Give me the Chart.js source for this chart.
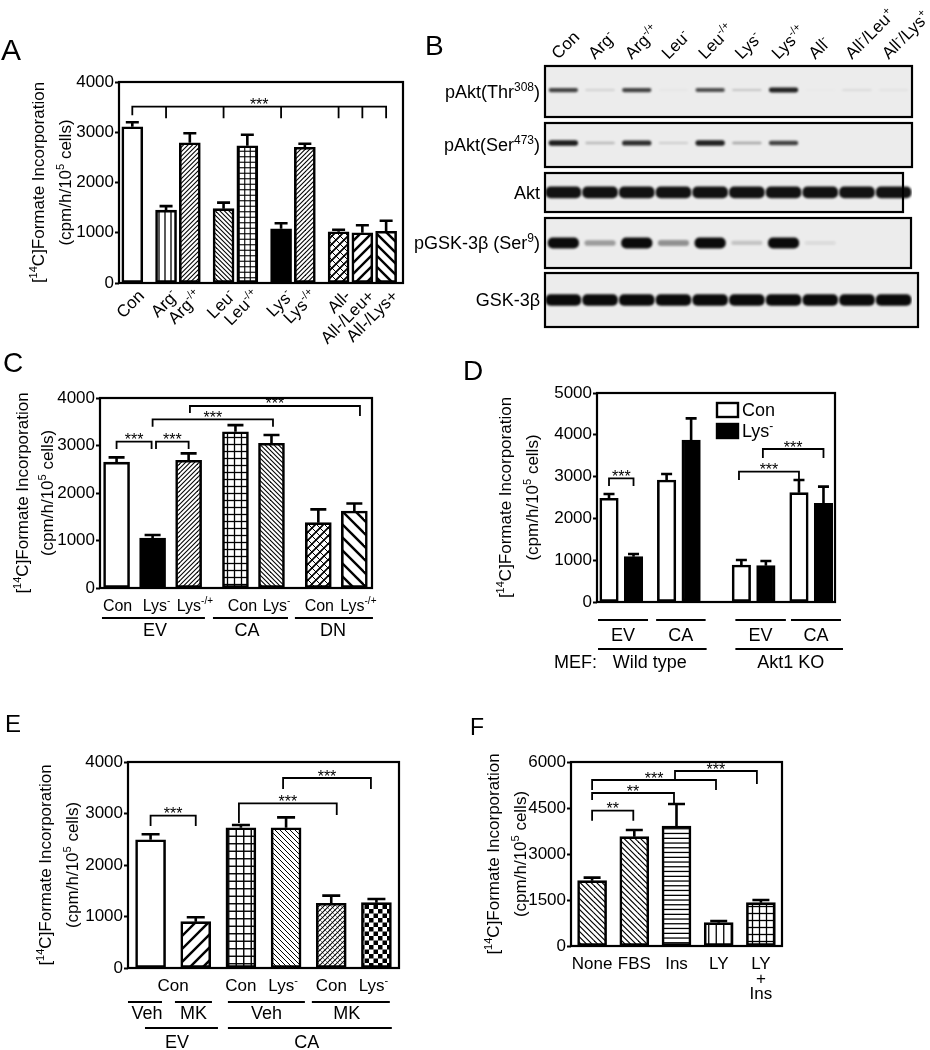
<!DOCTYPE html>
<html><head><meta charset="utf-8"><title>Figure</title>
<script src="https://cdn.jsdelivr.net/npm/chart.js@4.4.1/dist/chart.umd.min.js"></script>
<style>html,body{margin:0;padding:0;background:#fff}#wrap{position:relative;width:930px;height:1050px;overflow:hidden;background:#fff}canvas{position:absolute;left:0;top:0}</style>
</head><body><div id="wrap">
<canvas id="cA" width="930" height="1050"></canvas>
<canvas id="cB" width="930" height="1050"></canvas>
<canvas id="cC" width="930" height="1050"></canvas>
<canvas id="cD" width="930" height="1050"></canvas>
<canvas id="cE" width="930" height="1050"></canvas>
<canvas id="cF" width="930" height="1050"></canvas>
</div>
<script>
// ================= DATA =================
const yTitleLines = ['[^{14}C]Formate Incorporation', '(cpm/h/10^{5} cells)'];

// Panel A
const catA = ['Con','Arg^{-}','Arg^{-/+}','Leu^{-}','Leu^{-/+}','Lys^{-}','Lys^{-/+}','All-','All-/Leu+','All-/Lys+'];
const groupSizesA = [1,2,2,2,3];
const valA = [3110,1450,2790,1480,2730,1080,2700,1020,1000,1030];
const semA = [90,80,190,120,220,110,70,40,150,210];
const yTicksA = [0,1000,2000,3000,4000];

// Panel B (western blot band intensities, 0..1)
const laneB = ['Con','Arg^{-}','Arg^{-/+}','Leu^{-}','Leu^{-/+}','Lys^{-}','Lys^{-/+}','All^{-}','All^{-}/Leu^{+}','All^{-}/Lys^{+}'];
const rowB = ['pAkt(Thr^{308})','pAkt(Ser^{473})','Akt','pGSK-3β (Ser^{9})','GSK-3β'];
const thr308B = [0.75,0.12,0.75,0.04,0.70,0.18,0.90,0.02,0.10,0.06];
const ser473B = [0.92,0.22,0.85,0.14,0.90,0.30,0.75,0,0,0];
const aktB    = [0.97,0.97,0.97,0.97,0.97,0.97,0.97,0.97,0.97,0.97];
const pgskB   = [1.00,0.35,1.00,0.40,1.00,0.18,1.00,0.08,0,0];
const gskB    = [1,1,1,1,1,1,1,1,1,1];

// Panel C
const catC = ['Con','Lys^{-}','Lys^{-/+}','Con','Lys^{-}','Con','Lys^{-/+}'];
const groupC = ['EV','CA','DN'];
const groupSizesC = [3,2,2];
const valC = [2650,1050,2690,3290,3046,1375,1620];
const semC = [100,65,145,140,174,280,160];
const yTicksC = [0,1000,2000,3000,4000];

// Panel D
const seriesD = ['Con','Lys^{-}'];
const vectorD = ['EV','CA'];
const mefD = ['Wild type','Akt1 KO'];
const conD = [2480,2919,885,2615];
const conSemD = [104,143,120,304];
const lysD = [1084,3875,870,2360];
const lysSemD = [64,519,110,400];
const yTicksD = [0,1000,2000,3000,4000,5000];

// Panel E
const treatE = ['Con','Con','Con','Lys^{-}','Con','Lys^{-}'];
const drugE = ['Veh','MK','Veh','MK'];
const vectorE = ['EV','CA'];
const valE = [2490,900,2724,2724,1256,1268];
const semE = [106,84,53,201,149,72];
const yTicksE = [0,1000,2000,3000,4000];

// Panel F
const catF = ['None','FBS','Ins','LY','LY\n+\nIns'];
const valF = [2130,3565,3913,760,1413];
const semF = [98,217,717,55,87];
const yTicksF = [0,1500,3000,4500,6000];

// ================= HELPERS =================
const FONT = '"Liberation Sans", Arial, Helvetica, sans-serif';
const W = 930, H = 1050, YW = 60;

function parseRich(s){
  const segs=[]; const re=/\^\{([^}]*)\}/g; let last=0, m;
  while((m=re.exec(s))){ if(m.index>last) segs.push({t:s.slice(last,m.index),sup:false}); segs.push({t:m[1],sup:true}); last=re.lastIndex; }
  if(last<s.length) segs.push({t:s.slice(last),sup:false});
  return segs;
}
function drawRich(ctx, s, x, y, o){
  const size=o.size||17, segs=parseRich(s);
  ctx.save(); ctx.translate(x,y); if(o.rotate) ctx.rotate(o.rotate);
  ctx.textAlign='left'; ctx.textBaseline='alphabetic'; ctx.fillStyle='#000';
  let w=0;
  segs.forEach(g=>{ ctx.font=(g.sup?Math.round(size*0.64):size)+'px '+FONT; g.w=ctx.measureText(g.t).width; w+=g.w; });
  let sx=o.align==='center'?-w/2:(o.align==='right'?-w:0);
  const by=o.v==='middle'?size*0.36:(o.v==='top'?size*0.74:0);
  segs.forEach(g=>{ ctx.font=(g.sup?Math.round(size*0.64):size)+'px '+FONT; ctx.fillText(g.t, sx, by-(g.sup?size*0.4:0)); sx+=g.w; });
  ctx.restore();
}
function pattern(type, s, lw, lw2){
  const c=document.createElement('canvas'); c.width=Math.round(s*4); c.height=Math.round(s*4);
  const g=c.getContext('2d'); const S=c.width;
  g.fillStyle='#fff'; g.fillRect(0,0,S,S); g.strokeStyle='#000'; g.fillStyle='#000'; g.lineCap='butt';
  const ln=(x1,y1,x2,y2,w)=>{ g.lineWidth=w; g.beginPath(); g.moveTo(x1,y1); g.lineTo(x2,y2); g.stroke(); };
  const n=4;
  const fwd=(w)=>{ for(let k=-n;k<=n;k++){ ln(k*s-1, S+1, k*s+S+1, -1, w); } };
  const back=(w)=>{ for(let k=-n;k<=n;k++){ ln(k*s-1, -1, k*s+S+1, S+1, w); } };
  if(type==='vert'){ for(let k=0;k<n;k++) ln(k*s+s/2,0,k*s+s/2,S,lw); }
  else if(type==='horiz'){ for(let k=0;k<n;k++) ln(0,k*s+s/2,S,k*s+s/2,lw); }
  else if(type==='grid'){ for(let k=0;k<n;k++){ ln(k*s+s/2,0,k*s+s/2,S,lw); ln(0,k*s+s/2,S,k*s+s/2,lw); } }
  else if(type==='fwd'){ fwd(lw); }
  else if(type==='back'){ back(lw); }
  else if(type==='xhatch'){ fwd(lw); back(lw2); }
  else if(type==='checker'){ const q=s/2; for(let i=0;i<8;i++) for(let j=0;j<8;j++) if((i+j)%2===0) g.fillRect(i*q,j*q,q,q); }
  return g.createPattern(c,'repeat');
}
function groupedPositions(sizes, gap){
  const p=[]; let x=0;
  sizes.forEach(n=>{ for(let i=0;i<n;i++){ p.push(x); x+=1; } x+=gap; });
  return p;
}

// ================= DECOR PLUGIN =================
function decor(P){
  return {
    id:'decor',
    afterDatasetsDraw(chart){
      const ctx=chart.ctx, ys=chart.scales.y;
      ctx.save(); ctx.strokeStyle='#000'; ctx.lineWidth=2.6; ctx.lineCap='butt';
      P.series.forEach((s,di)=>{
        const meta=chart.getDatasetMeta(di);
        meta.data.forEach((el,i)=>{
          const v=s.values[i], e=s.sem[i];
          const yt=ys.getPixelForValue(v), ye=ys.getPixelForValue(v+e), hw=P.capW/2;
          ctx.beginPath(); ctx.moveTo(el.x,yt); ctx.lineTo(el.x,ye); ctx.moveTo(el.x-hw,ye); ctx.lineTo(el.x+hw,ye); ctx.stroke();
        });
      });
      ctx.restore();
    },
    afterDraw(chart){
      const ctx=chart.ctx, ca=chart.chartArea, xs=chart.scales.x, ys=chart.scales.y;
      const px=k=>xs.getPixelForValue(P.flatPos[k]);
      ctx.save();
      ctx.strokeStyle='#000'; ctx.lineWidth=2.2;
      ctx.strokeRect(ca.left, ca.top, ca.right-ca.left, ca.bottom-ca.top);
      // significance brackets
      (P.brackets||[]).forEach(b=>{
        const x1=px(b.a)+(b.oa||0), x2=px(b.b)+(b.ob||0), yl=ys.getPixelForValue(b.y);
        ctx.lineWidth=1.8; ctx.beginPath();
        ctx.moveTo(x1, ys.getPixelForValue(b.da)); ctx.lineTo(x1, yl); ctx.lineTo(x2, yl); ctx.lineTo(x2, ys.getPixelForValue(b.db));
        (b.ticks||[]).forEach(k=>{ const xx=px(k); ctx.moveTo(xx,yl); ctx.lineTo(xx, ys.getPixelForValue(b.dt)); });
        ctx.stroke();
        ctx.fillStyle='#000'; ctx.font='16px '+FONT; ctx.textAlign='center'; ctx.textBaseline='alphabetic';
        ctx.fillText(b.t, (x1+x2)/2+(b.tx||0), yl+3.5);
      });
      // category labels / group lines under the axis
      (P.under||[]).forEach(u=>{
        const xa=px(u.a), xb=px(u.b===undefined?u.a:u.b);
        let cx=(xa+xb)/2;
        if(u.line!==undefined){
          const l1=xa-u.eL, l2=xb+u.eR; cx=(l1+l2)/2;
          ctx.lineWidth=2; ctx.beginPath(); ctx.moveTo(l1, ca.bottom+u.line); ctx.lineTo(l2, ca.bottom+u.line); ctx.stroke();
        }
        if(u.text) drawRich(ctx, u.text, cx+(u.dx||0), ca.bottom+u.dy, {size:u.size||17, align:'center', v:'middle'});
      });
      (P.extra||[]).forEach(t=>{ drawRich(ctx, t.text, ca.left+t.dx, ca.bottom+t.dy, {size:t.size||17, align:t.align, v:'middle'}); });
      // rotated category labels
      if(P.rot){ P.rot.texts.forEach((t,k)=>{ drawRich(ctx, t, px(k)+P.rot.dx, ca.bottom+P.rot.dy, {size:17, align:'right', v:'top', rotate:-Math.PI/4}); }); }
      // y title
      const cy=(ca.top+ca.bottom)/2;
      drawRich(ctx, yTitleLines[0], ca.left-P.yTitle[0], cy, {size:17, align:'center', v:'middle', rotate:-Math.PI/2});
      drawRich(ctx, yTitleLines[1], ca.left-P.yTitle[1], cy, {size:17, align:'center', v:'middle', rotate:-Math.PI/2});
      // legend
      if(P.legend){
        const L=P.legend;
        L.items.forEach((it,i)=>{
          const bx=ca.right-L.dxr, by=ca.top+L.dyt+i*L.gap;
          ctx.fillStyle=it.bg; ctx.fillRect(bx,by,L.bw,L.bh);
          ctx.lineWidth=2.4; ctx.strokeStyle='#000'; ctx.strokeRect(bx,by,L.bw,L.bh);
          drawRich(ctx, it.t, bx+L.bw+4, by+L.bh/2, {size:L.size, align:'left', v:'middle'});
        });
      }
      // panel letter
      ctx.fillStyle='#000'; ctx.textAlign='left'; ctx.textBaseline='alphabetic';
      ctx.font=P.letter.size+'px '+FONT; ctx.fillText(P.letter.t, P.letter.x, P.letter.y);
      ctx.restore();
    }
  };
}

function makeBars(P){
  const isLin=P.xType==='linear';
  const datasets=P.series.map(s=>({
    data: isLin ? s.pos.map((x,i)=>({x, y:s.values[i]})) : s.values.slice(),
    backgroundColor:s.bg, borderColor:'#000', borderWidth:2.6, borderSkipped:false,
    barThickness:P.barW, grouped:false
  }));
  const xs = isLin
    ? {type:'linear', display:false, offset:false, min:Math.min(...P.flatPos)-P.padL, max:Math.max(...P.flatPos)+P.padR}
    : {type:'category', display:false, offset:true};
  return new Chart(document.getElementById(P.id), {
    type:'bar',
    data:{labels: isLin ? [] : P.labels, datasets},
    options:{
      responsive:false, animation:false, events:[], devicePixelRatio:1,
      layout:{padding:{left:P.area.l-YW, top:P.area.t, right:W-P.area.r, bottom:H-P.area.b}},
      plugins:{legend:{display:false}, tooltip:{enabled:false}},
      scales:{
        x:xs,
        y:{ type:'linear', min:P.yTicks[0], max:P.yTicks[P.yTicks.length-1],
            afterFit(s){ s.width=YW; },
            afterBuildTicks(s){ s.ticks=P.yTicks.map(v=>({value:v})); },
            ticks:{ color:'#000', font:{family:FONT, size:17}, padding:1, callback:v=>String(v) },
            grid:{ drawOnChartArea:false, drawTicks:true, tickLength:4, tickWidth:2, tickColor:'#000' },
            border:{display:false} }
      }
    },
    plugins:[decor(P)]
  });
}

// ================= PANEL A =================
const posA = groupedPositions(groupSizesA, 0.42);
makeBars({
  id:'cA', area:{l:119,t:82,r:403,b:283}, yTicks:yTicksA, xType:'linear', padL:0.56, padR:0.71,
  flatPos:posA, barW:21, capW:13,
  series:[{values:valA, sem:semA, pos:posA,
    bg:['#fff', pattern('vert',6,1.3), pattern('fwd',4.5,1.1), pattern('back',4.5,1.1), pattern('grid',5.5,1.1), '#000',
        pattern('fwd',4.5,1.1), pattern('xhatch',8,1.8,1.0), pattern('fwd',11,2.4), pattern('back',11,2.4)]}],
  brackets:[{a:0,b:9,y:3510,da:3340,db:3280,ticks:[1,3,5,7,8],dt:3280,t:'***'}],
  rot:{texts:catA, dx:4, dy:5},
  yTitle:[81,54], letter:{t:'A',x:1,y:60,size:30}
});

// ================= PANEL C =================
const posC = groupedPositions(groupSizesC, 0.3);
const dxC = [1,4,6.3,7,5,1,4];
makeBars({
  id:'cC', area:{l:100,t:398,r:372,b:588}, yTicks:yTicksC, xType:'linear', padL:0.46, padR:0.49,
  flatPos:posC, barW:26, capW:16,
  series:[{values:valC, sem:semC, pos:posC,
    bg:['#fff','#000', pattern('fwd',4.5,1.1), pattern('grid',7,1.3), pattern('back',4.5,1.1), pattern('xhatch',8,1.6,1.0), pattern('back',13,2.4)]}],
  brackets:[
    {a:0,b:1,y:3080,da:2926,db:2926,ob:-1,t:'***'},
    {a:1,b:2,y:3080,da:2926,db:2926,oa:3.4,t:'***'},
    {a:1,b:4,y:3552,da:3396,db:3396,ob:1.5,t:'***'},
    {a:2,b:6,y:3832,da:3684,db:3621,oa:1.3,ob:5.6,t:'***'}
  ],
  under:[
    ...catC.map((t,i)=>({a:i, text:t, dy:17, dx:dxC[i], size:16})),
    {a:0,b:2,line:30,eL:14.6,eR:16.3,text:groupC[0],dy:42,dx:1.5,size:18},
    {a:3,b:4,line:30,eL:22.5,eR:16.5,text:groupC[1],dy:42,dx:-3.5,size:18},
    {a:5,b:6,line:30,eL:23.4,eR:18.6,text:groupC[2],dy:42,dx:-1,size:18}
  ],
  yTitle:[78,53], letter:{t:'C',x:3,y:372,size:28}
});

// ================= PANEL D =================
const conPosD=[], lysPosD=[], flatD=[];
(function(){ let x=0; mefD.forEach(()=>{ vectorD.forEach(()=>{ conPosD.push(x); lysPosD.push(x+1); flatD.push(x, x+1); x+=2.35; }); x+=0.7; }); })();
makeBars({
  id:'cD', area:{l:597,t:393,r:835,b:602}, yTicks:yTicksD, xType:'linear', padL:0.49, padR:0.47,
  flatPos:flatD, barW:18.5, capW:11,
  series:[{values:conD, sem:conSemD, pos:conPosD, bg:'#fff'},{values:lysD, sem:lysSemD, pos:lysPosD, bg:'#000'}],
  brackets:[
    {a:0,b:1,y:2959,da:2775,db:2775,t:'***'},
    {a:4,b:6,y:3117,da:2919,db:2919,oa:-2.4,t:'***'},
    {a:5,b:7,y:3660,da:3445,db:3445,oa:-3,t:'***'}
  ],
  under:[
    {a:0,b:1,line:18,eL:11,eR:14.5,text:vectorD[0],dy:33,size:18},
    {a:2,b:3,line:18,eL:10.5,eR:14.5,text:vectorD[1],dy:33,size:18},
    {a:4,b:5,line:18,eL:6,eR:20,text:vectorD[0],dy:33,size:18},
    {a:6,b:7,line:18,eL:8,eR:17.5,text:vectorD[1],dy:33,size:18},
    {a:0,b:3,line:47,eL:11,eR:15.5,text:mefD[0],dy:60,dx:-2.5,size:18},
    {a:4,b:7,line:47,eL:6,eR:19.5,text:mefD[1],dy:60,dx:1.5,size:18}
  ],
  extra:[{text:'MEF:', dx:0, dy:60, align:'right', size:18}],
  legend:{items:[{t:seriesD[0],bg:'#fff'},{t:seriesD[1],bg:'#000'}], dxr:118, dyt:10, bw:21, bh:14, gap:21, size:18},
  yTitle:[92,65], letter:{t:'D',x:463,y:380,size:28}
});

// ================= PANEL E =================
makeBars({
  id:'cE', area:{l:128,t:762,r:399,b:968}, yTicks:yTicksE, xType:'category', labels:treatE,
  flatPos:valE.map((v,i)=>i), barW:30, capW:18,
  series:[{values:valE, sem:semE,
    bg:['#fff', pattern('fwd',13,2.4), pattern('grid',7.5,1.4), pattern('back',5,1.0), pattern('xhatch',5,1.1,0.5), pattern('checker',9)]}],
  brackets:[
    {a:0,b:1,y:2957,da:2757,db:2757,t:'***'},
    {a:2,b:4,y:3198,da:2816,db:2971,oa:-2,ob:5.5,t:'***'},
    {a:3,b:5,y:3689,da:3476,db:3476,oa:-3,ob:-5.5,t:'***'}
  ],
  under:[
    {a:0,b:1,text:treatE[0],dy:17},
    {a:2,text:treatE[2],dy:17},{a:3,text:treatE[3],dy:17,dx:-3},{a:4,text:treatE[4],dy:17},{a:5,text:treatE[5],dy:17,dx:-3},
    {a:0,line:34,eL:22.6,eR:11.4,text:drugE[0],dy:45,dx:2,size:18},
    {a:1,line:34,eL:20.8,eR:16.2,text:drugE[1],dy:45,size:18},
    {a:2,b:3,line:34,eL:13,eR:18.8,text:drugE[2],dy:45,size:18},
    {a:4,b:5,line:34,eL:19.4,eR:13.4,text:drugE[3],dy:45,dx:-4,size:18},
    {a:0,b:1,line:60,eL:5.6,eR:22.2,text:vectorE[0],dy:74,dx:-4.5,size:18},
    {a:2,b:5,line:60,eL:13,eR:15.4,text:vectorE[1],dy:74,dx:-3,size:18}
  ],
  yTitle:[83,56], letter:{t:'E',x:5,y:732,size:24}
});

// ================= PANEL F =================
makeBars({
  id:'cF', area:{l:571,t:762,r:782,b:946}, yTicks:yTicksF, xType:'category', labels:catF,
  flatPos:valF.map((v,i)=>i), barW:29, capW:17,
  series:[{values:valF, sem:semF,
    bg:[pattern('back',5.5,1.2), pattern('back',5.5,1.2), pattern('horiz',4.7,1.3), pattern('vert',7.5,1.3), pattern('grid',7,1.3)]}],
  brackets:[
    {a:0,b:1,y:4412,da:4085,db:4085,ob:-1,t:'**'},
    {a:0,b:2,y:4989,da:4760,db:4630,ob:-2.5,t:'**'},
    {a:0,b:3,y:5413,da:5087,db:5087,ob:-2.7,t:'***'},
    {a:2,b:4,y:5706,da:5413,db:5282,oa:-1.5,ob:-4,t:'***'}
  ],
  under: catF.flatMap((t,i)=>t.split('\n').map((s,j)=>({a:i, text:s, dy:17+15*j}))),
  yTitle:[78,51], letter:{t:'F',x:470,y:735,size:23}
});

// ================= PANEL B (blot) =================
(function(){
  const rows=[thr308B, ser473B, aktB, pgskB, gskB];
  const bandC=[0.46,1.475,2.42,3.39,4.483];
  const bandT=[0.10,0.11,0.23,0.21,0.22];
  const bandW=[0.80,0.80,0.97,0.85,0.97];
  const frames=[[0,0.977,0],[1.092,1.935,0],[2.05,2.797,-9],[2.912,3.87,-1],[3.966,5.0,6]];
  const datasets=rows.map((arr,r)=>({
    data:arr.map(v=>{ if(v<=0.01) return null; const t=bandT[r]*(0.25+0.75*v); return [bandC[r]-t/2, bandC[r]+t/2]; }),
    backgroundColor:arr.map(v=>'rgba(10,10,10,'+Math.min(1,v).toFixed(3)+')'),
    borderWidth:0, borderRadius:5, borderSkipped:false, barPercentage:bandW[r], categoryPercentage:1, grouped:false
  }));
  const area={l:545,t:66,r:912,b:327};
  const blot={
    id:'blot',
    beforeDatasetsDraw(chart){
      const ctx=chart.ctx, ca=chart.chartArea, ys=chart.scales.y;
      ctx.save(); ctx.fillStyle='#ececec';
      frames.forEach(f=>{ const t=ys.getPixelForValue(f[0]), b=ys.getPixelForValue(f[1]); ctx.fillRect(ca.left, t, ca.right-ca.left+f[2], b-t); });
      ctx.restore();
      ctx.filter='blur(1.2px)';
    },
    afterDatasetsDraw(chart){
      const ctx=chart.ctx, ca=chart.chartArea, ys=chart.scales.y, xs=chart.scales.x;
      ctx.filter='none';
      ctx.save(); ctx.strokeStyle='#000'; ctx.lineWidth=2.2;
      frames.forEach(f=>{ const t=ys.getPixelForValue(f[0]), b=ys.getPixelForValue(f[1]); ctx.strokeRect(ca.left, t, ca.right-ca.left+f[2], b-t); });
      rowB.forEach((name,r)=>{ const t=ys.getPixelForValue(frames[r][0]), b=ys.getPixelForValue(frames[r][1]);
        drawRich(ctx, name, ca.left-5, (t+b)/2, {size:18, align:'right', v:'middle'}); });
      laneB.forEach((name,i)=>{ drawRich(ctx, name, xs.getPixelForValue(i)-5, ca.top-6, {size:17, align:'left', v:'alphabetic', rotate:-Math.PI/4}); });
      ctx.fillStyle='#000'; ctx.font='28px '+FONT; ctx.textAlign='left'; ctx.textBaseline='alphabetic'; ctx.fillText('B',425,55);
      ctx.restore();
    }
  };
  new Chart(document.getElementById('cB'), {
    type:'bar',
    data:{labels:laneB, datasets},
    options:{
      responsive:false, animation:false, events:[], devicePixelRatio:1,
      layout:{padding:{left:area.l, top:area.t, right:W-area.r, bottom:H-area.b}},
      plugins:{legend:{display:false}, tooltip:{enabled:false}},
      scales:{ x:{type:'category', display:false, offset:true}, y:{type:'linear', min:0, max:5, reverse:true, display:false} }
    },
    plugins:[blot]
  });
})();
</script></body></html>
